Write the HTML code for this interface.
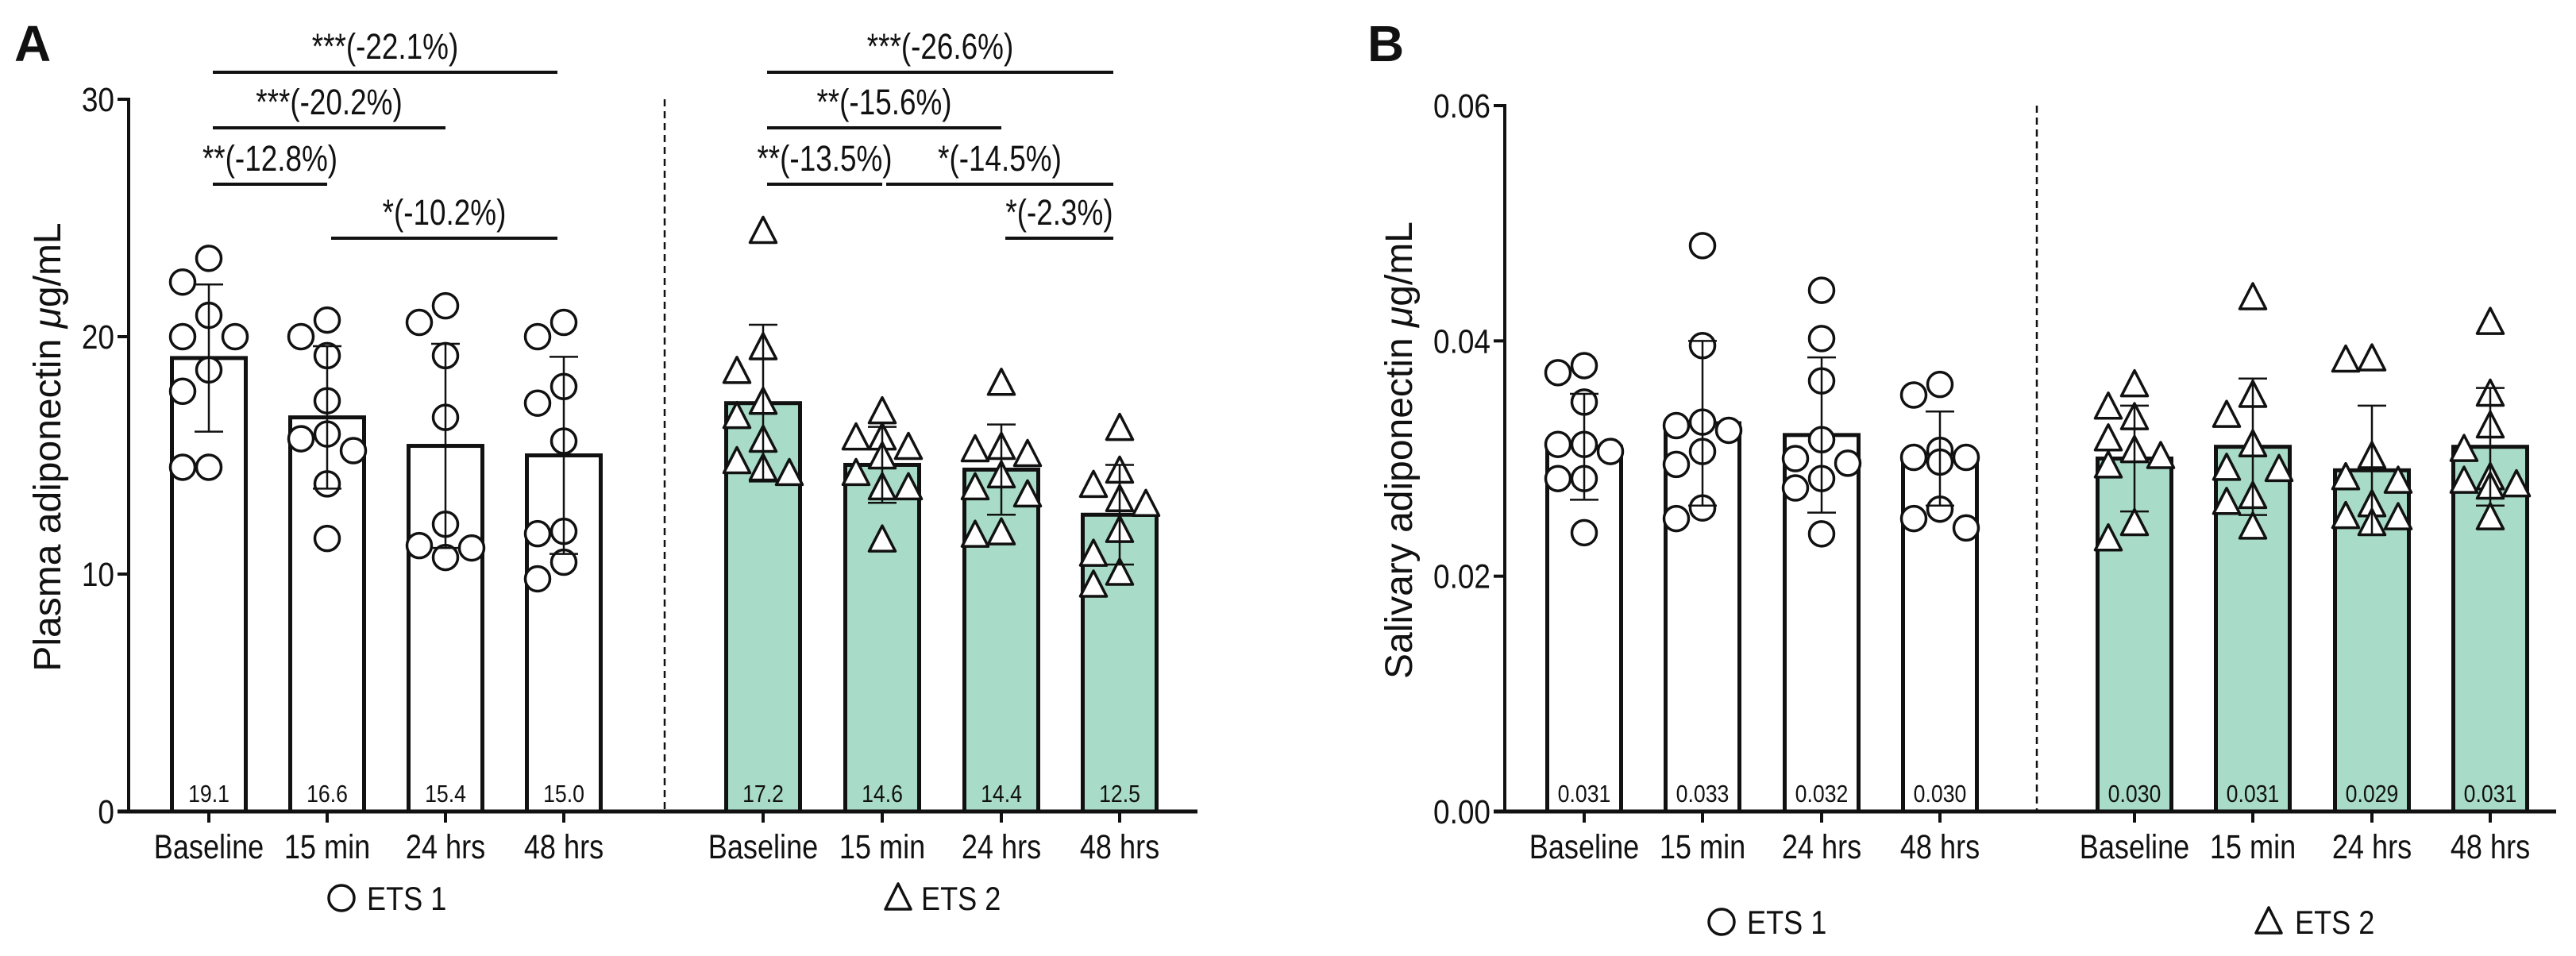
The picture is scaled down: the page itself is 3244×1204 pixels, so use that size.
<!DOCTYPE html>
<html><head><meta charset="utf-8"><style>
html,body{margin:0;padding:0;background:#fff}
svg{display:block;font-family:"Liberation Sans",Arial,sans-serif}
</style></head><body>
<svg id="fig" width="3244" height="1204" viewBox="0 0 3244 1204" xmlns="http://www.w3.org/2000/svg"></svg>
<script>
// ---------- data ----------
const categories = ["Baseline","15 min","24 hrs","48 hrs"];
const groups = ["ETS 1","ETS 2"];
// Panel A plasma adiponectin (µg/mL)
const plasmaMeans1 = [19.1,16.6,15.4,15.0];
const plasmaMeans2 = [17.2,14.6,14.4,12.5];
const plasmaSD1 = [3.1,3.0,4.3,4.15];
const plasmaSD2 = [3.3,1.6,1.9,2.1];
const plasmaPts1 = [
 [23.3,22.3,20.9,20.0,20.0,18.6,17.7,14.5,14.5],
 [20.7,20.0,19.2,17.3,15.9,15.7,15.2,13.8,11.5],
 [21.3,20.6,19.2,16.6,12.1,11.2,11.1,10.7],
 [20.6,20.0,17.9,17.2,15.6,11.8,11.7,10.5,9.8]];
const plasmaPts2 = [
 [24.4,19.5,18.5,17.2,16.6,15.6,14.7,14.4,14.2],
 [16.8,15.7,15.7,15.3,14.9,14.2,13.6,13.6,11.4],
 [18.0,15.3,15.2,15.0,14.1,13.6,13.3,11.7,11.6],
 [16.1,14.3,13.7,13.1,12.9,11.8,10.8,10.0,9.5]];
const plasmaLabels1 = ["19.1","16.6","15.4","15.0"];
const plasmaLabels2 = ["17.2","14.6","14.4","12.5"];
const plasmaTicks = [0,10,20,30];
// significance brackets [fromIdx, toIdx, level, label]
const sigGroup1 = [[0,3,0,"***(-22.1%)"],[0,2,1,"***(-20.2%)"],[0,1,2,"**(-12.8%)"],[1,3,3,"*(-10.2%)"]];
const sigGroup2 = [[0,3,0,"***(-26.6%)"],[0,2,1,"**(-15.6%)"],[0,1,2,"**(-13.5%)"],[1,3,2,"*(-14.5%)"],[2,3,3,"*(-2.3%)"]];
// Panel B salivary adiponectin (µg/mL)
const salMeans1 = [0.031,0.033,0.032,0.030];
const salMeans2 = [0.030,0.031,0.029,0.031];
const salSD1 = [0.0045,0.007,0.0066,0.004];
const salSD2 = [0.0045,0.0058,0.0055,0.005];
const salPts1 = [
 [0.0379,0.0373,0.0348,0.0312,0.0312,0.0306,0.0283,0.0283,0.0237],
 [0.0481,0.0396,0.0331,0.0328,0.0324,0.0306,0.0295,0.0258,0.0249],
 [0.0443,0.0402,0.0366,0.0316,0.0300,0.0296,0.0283,0.0275,0.0236],
 [0.0363,0.0354,0.0307,0.0301,0.0301,0.0297,0.0257,0.0249,0.0241]];
const salPts2 = [
 [0.0362,0.0343,0.0334,0.0316,0.0306,0.0301,0.0293,0.0244,0.0231],
 [0.0436,0.0353,0.0336,0.0311,0.0291,0.0290,0.0267,0.0262,0.0241],
 [0.0384,0.0383,0.0301,0.0283,0.0280,0.0260,0.0250,0.0249,0.0244],
 [0.0415,0.0354,0.0327,0.0307,0.0283,0.0280,0.0277,0.0275,0.0249]];
const salLabels1 = ["0.031","0.033","0.032","0.030"];
const salLabels2 = ["0.030","0.031","0.029","0.031"];
const salTicks = [0,0.02,0.04,0.06];
const salTickLabels = ["0.00","0.02","0.04","0.06"];

// ---------- drawing ----------
const NS="http://www.w3.org/2000/svg";
const svg=document.getElementById('fig');
function mk(tag,attrs,parent){const e=document.createElementNS(NS,tag);for(const k in attrs)e.setAttribute(k,attrs[k]);(parent||svg).appendChild(e);return e;}
function txt(x,y,s,size,anchor,sx,weight,parent){
  const t=mk('text',{transform:`translate(${x},${y}) scale(${sx},1)`,'font-size':size,'text-anchor':anchor,fill:'#111','font-weight':weight||'normal'},parent);
  t.textContent=s;return t;}
const GREEN="#a9dcc8";

function panel(cfg){
  const g=mk('g',{});
  
  
  const y=v=>cfg.y0-(v-cfg.vmin)/(cfg.vmax-cfg.vmin)*(cfg.y0-cfg.yTop);
  const ax=mk('line',{x1:cfg.axX,y1:y(cfg.vmax)-2,x2:cfg.axX,y2:cfg.y0+2,stroke:'#111','stroke-width':4},g);
  
  
  cfg.ticks.forEach((tv,i)=>{
    const tk=mk('line',{x1:cfg.axX-14,y1:y(tv),x2:cfg.axX,y2:y(tv),stroke:'#111','stroke-width':4},g);
    
    
    const tl=txt(cfg.axX-18,y(tv)+15,cfg.tickLabels[i],43,'end',0.86,null,g);
    
    
  });
  const xa=mk('line',{x1:cfg.axX-14,y1:cfg.y0,x2:cfg.axEnd,y2:cfg.y0,stroke:'#111','stroke-width':5},g);
  
  
  const yt=mk('text',{transform:`translate(${cfg.ylabX},${cfg.ylabY}) rotate(-90)`,'font-size':48,'text-anchor':'middle',fill:'#111'},g);
  yt.textContent=cfg.ylabel+' ';
  const mu=mk('tspan',{'font-style':'italic'},yt);
  mu.textContent='μ';
  const unit=mk('tspan',{},yt);
  unit.textContent='g/mL';
  
  
  const dl=mk('line',{x1:cfg.dashX,y1:y(cfg.vmax),x2:cfg.dashX,y2:cfg.y0,stroke:'#111','stroke-width':2.5,'stroke-dasharray':'9 6'},g);
  
  
  const pl=txt(cfg.letterX,77,cfg.letter,64,'start',1,'bold',g);
  
  

  const sets=[{m:cfg.m1,sd:cfg.sd1,p:cfg.p1,lab:cfg.l1,xs:cfg.xs1,fill:'#fff',mark:'circle'},
              {m:cfg.m2,sd:cfg.sd2,p:cfg.p2,lab:cfg.l2,xs:cfg.xs2,fill:GREEN,mark:'triangle'}];
  sets.forEach((s,gi)=>{
    categories.forEach((c,ci)=>{
      const cx=s.xs[ci],bw=93;
      const bar=mk('rect',{x:cx-bw/2,y:y(s.m[ci]),width:bw,height:cfg.y0-y(s.m[ci]),fill:s.fill,stroke:'#111','stroke-width':5},g);
      
      
      const tk=mk('line',{x1:cx,y1:cfg.y0,x2:cx,y2:cfg.y0+14,stroke:'#111','stroke-width':4},g);
      
      
      const vl=txt(cx,1010,s.lab[ci],31,'middle',0.86,null,g);
      
      
      const cl=txt(cx,1081,c,43,'middle',0.84,null,g);
      
      
      const placed=[];const offs=[0,-33,33,-17,17,-50,50];
      const sorted=s.p[ci].slice().sort((a,b)=>b-a);
      sorted.forEach(v=>{
        const py=y(v);let px=cx;
        for(const o of offs){if(placed.every(q=>Math.hypot(q[0]-(cx+o),q[1]-py)>=32)){px=cx+o;break;}}
        placed.push([px,py]);
        let pt;
        if(s.mark==='circle'){pt=mk('circle',{cx:px,cy:py,r:15.5,fill:'#fff',stroke:'#111','stroke-width':3.5},g);}
        else{pt=mk('polygon',{points:`${px},${py-19} ${px-16.5},${py+13} ${px+16.5},${py+13}`,fill:'#fff',stroke:'#111','stroke-width':3.5,'stroke-linejoin':'round'},g);}
        
        
      });
      const top=y(s.m[ci]+s.sd[ci]),bot=y(s.m[ci]-s.sd[ci]);
      const eb=mk('path',{d:`M${cx},${top}V${bot}M${cx-18},${top}H${cx+18}M${cx-18},${bot}H${cx+18}`,stroke:'#111','stroke-width':2.5,fill:'none'},g);
      
      
    });
  });
  const lc=mk('circle',{cx:cfg.leg1[0],cy:cfg.legY-15,r:16,fill:'#fff',stroke:'#111','stroke-width':3.5},g);
  
  
  const lt1=txt(cfg.leg1[1],cfg.legY,'ETS 1',42,'start',0.86,null,g);
  
  
  const tx=cfg.leg2[0],ty=cfg.legY-15;
  const lm=mk('polygon',{points:`${tx},${ty-18} ${tx-16},${ty+14} ${tx+16},${ty+14}`,fill:'#fff',stroke:'#111','stroke-width':3.5,'stroke-linejoin':'round'},g);
  
  
  const lt2=txt(cfg.leg2[1],cfg.legY,'ETS 2',42,'start',0.86,null,g);
  
  
  const lvY=[91,161,232,300];
  [[cfg.sig1,cfg.xs1],[cfg.sig2,cfg.xs2]].forEach(([sig,xs])=>{
    (sig||[]).forEach(b=>{
      const x1=xs[b[0]]+5,x2=xs[b[1]]+(b[1]===3?-8:0);
      const ly=lvY[b[2]];
      const ln=mk('line',{x1:x1,y1:ly,x2:x2,y2:ly,stroke:'#111','stroke-width':4},g);
      
      
      const st=txt((x1+x2)/2,ly-17,b[3],45,'middle',0.82,null,g);
      
      
    });
  });
}

panel({name:'panel-a-plasma',y0:1022,yTop:125,vmin:0,vmax:30,axX:162,axEnd:1508,ticks:plasmaTicks,tickLabels:plasmaTicks.map(String),
  ylabel:'Plasma adiponectin',ylabX:76,ylabY:563,dashX:837,letter:'A',letterX:18,
  m1:plasmaMeans1,sd1:plasmaSD1,p1:plasmaPts1,l1:plasmaLabels1,xs1:[263,412,561,710],
  m2:plasmaMeans2,sd2:plasmaSD2,p2:plasmaPts2,l2:plasmaLabels2,xs2:[961,1111,1261,1410],
  leg1:[430,462],leg2:[1131,1160],legY:1146,sig1:sigGroup1,sig2:sigGroup2});
panel({name:'panel-b-salivary',y0:1022,yTop:133,vmin:0,vmax:0.06,axX:1895,axEnd:3219,ticks:salTicks,tickLabels:salTickLabels,
  ylabel:'Salivary adiponectin',ylabX:1778,ylabY:567,dashX:2565,letter:'B',letterX:1722,
  m1:salMeans1,sd1:salSD1,p1:salPts1,l1:salLabels1,xs1:[1995,2144,2294,2443],
  m2:salMeans2,sd2:salSD2,p2:salPts2,l2:salLabels2,xs2:[2688,2837,2987,3136],
  leg1:[2168,2200],leg2:[2857,2890],legY:1176});
</script>
</body></html>
